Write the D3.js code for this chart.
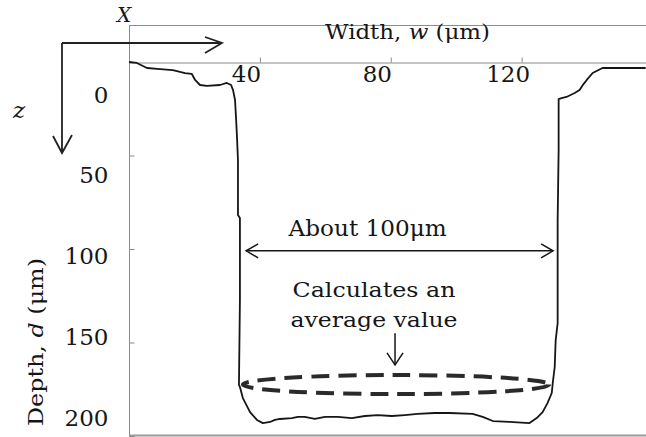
<!DOCTYPE html>
<html>
<head>
<meta charset="utf-8">
<script src="https://cdn.jsdelivr.net/npm/d3@7"></script>
<style>
  html, body { margin: 0; padding: 0; background: #fff; }
  svg { display: block; }
  text { font-family: "DejaVu Serif", serif; fill: #161616; }
</style>
</head>
<body>
<svg id="chart" width="646" height="437"></svg>
<script>
// Measured cross-section profile of the groove: position across the width (µm) and depth (µm)
const profileWidth = [0, 2.4, 5.5, 8.6, 13.4, 15.6, 17.1, 19.2, 20.2, 21.7,
  23.8, 27.8, 29.9, 31.2, 31.8, 32.4, 32.7, 33.0, 33.3, 33.3,
  33.9, 33.9, 33.6, 33.9, 34.8, 37.0, 39.1, 40.9, 43.1, 44.6,
  46.1, 49.8, 51.6, 53.7, 56.8, 59.9, 63.8, 68.1, 72.1, 76.0,
  80.3, 84.3, 88.2, 93.4, 98.0, 105.0, 108.1, 111.2, 116.3, 122.4,
  124.6, 126.4, 127.9, 129.2, 129.5, 130.1, 130.4, 131.0, 131.0, 131.3,
  131.3, 132.2, 133.7, 136.2, 137.7, 138.9, 139.9, 141.7, 144.7, 148.7, 157.9];
const profileDepth = [0, 0.5, 3.2, 3.7, 4.3, 5.3, 5.9, 6.4, 9.6, 12.3,
  12.8, 12.3, 11.2, 12.3, 15.0, 20.3, 29.4, 40.1, 52.4, 81.8,
  83.4, 127.3, 172.7, 173.8, 179.7, 187.2, 191.4, 193.1, 192.5, 191.4,
  190.9, 190.4, 189.8, 189.8, 190.9, 189.8, 189.8, 190.4, 189.3, 188.8,
  189.3, 188.8, 188.2, 187.7, 187.7, 188.2, 189.8, 192.0, 192.5, 193.1,
  190.4, 187.2, 182.4, 177.0, 171.7, 163.1, 148.7, 139.6, 84.5, 47.1,
  19.8, 19.3, 18.7, 16.6, 15.0, 11.8, 9.6, 5.9, 3.2, 3.2, 3.2];

// Axis ticks
const widthTicks = [40, 80, 120];
const depthTicks = [0, 50, 100, 150, 200];

// Annotations, in data units (µm)
const spanArrow = [35.8, 129.6];      // width span of the groove
const spanArrowDepth = 101;
const spanLabel = ["About 100μm"];
const averageLabel = ["Calculates an", "average value"];
const averageArrow = [81.3, 145, 162]; // width, from depth, to depth
const averageZone = [81.6, 172.5, 46.8, 5.1]; // centre width, centre depth, half-width, half-depth

const svg = d3.select("#chart");
const W = 646, H = 437;
const left = 129, bandTop = 25;

const x = d3.scaleLinear().domain([0, 158]).range([left, W]);
const y = d3.scaleLinear().domain([0, 200]).range([62, 436]);
// depth tick labels sit on their own, slightly tighter ladder
const yLabel = d3.scaleLinear().domain([0, 200]).range([102, 425]);

const frameColor = "#8c8c8c";
const ink = "#161616";

// frame: header band and plot border
svg.append("line").attr("x1", left).attr("x2", W).attr("y1", bandTop + 0.5).attr("y2", bandTop + 0.5)
  .attr("stroke", frameColor).attr("stroke-width", 1);
svg.append("line").attr("x1", left + 0.5).attr("x2", left + 0.5).attr("y1", bandTop).attr("y2", H)
  .attr("stroke", frameColor).attr("stroke-width", 1);
svg.append("line").attr("x1", left).attr("x2", W).attr("y1", H - 1.5).attr("y2", H - 1.5)
  .attr("stroke", "#9a9a9a").attr("stroke-width", 2);

// width axis along the top of the plot
const gx = svg.append("g")
  .attr("transform", `translate(0,${y(0) + 0.5})`)
  .call(d3.axisTop(x).tickValues(widthTicks).tickSize(5).tickSizeOuter(0));
gx.select(".domain").attr("stroke", frameColor);
gx.selectAll(".tick line").attr("stroke", frameColor);
gx.selectAll(".tick text")
  .attr("y", 19).attr("dy", 0).attr("dx", -14)
  .attr("font-size", 23).attr("font-family", "DejaVu Serif").attr("fill", ink);

// depth axis on the left, ticks pointing inward
const gy = svg.append("g")
  .attr("transform", `translate(${left + 0.5},0)`)
  .call(d3.axisRight(y).tickValues(depthTicks).tickSize(5).tickSizeOuter(0));
gy.select(".domain").remove();
gy.selectAll(".tick line").attr("stroke", frameColor);
gy.selectAll(".tick text")
  .attr("x", -21).attr("dy", 0)
  .attr("y", d => yLabel(d) - y(d))
  .attr("text-anchor", "end")
  .attr("font-size", 23).attr("font-family", "DejaVu Serif").attr("fill", ink);

// axis titles
const wTitle = svg.append("text")
  .attr("x", 325).attr("y", 39)
  .attr("font-size", 21)
  .attr("textLength", 165).attr("lengthAdjust", "spacingAndGlyphs");
wTitle.append("tspan").text("Width, ");
wTitle.append("tspan").attr("font-style", "italic").text("w");
wTitle.append("tspan").text(" (μm)");

const dTitle = svg.append("text")
  .attr("transform", "translate(43,342) rotate(-90)")
  .attr("text-anchor", "middle")
  .attr("font-size", 21)
  .attr("textLength", 168).attr("lengthAdjust", "spacingAndGlyphs");
dTitle.append("tspan").text("Depth, ");
dTitle.append("tspan").attr("font-style", "italic").text("d");
dTitle.append("tspan").text(" (μm)");

// coordinate system indicator (X to the right, z downward)
const axisInk = "#222";
const coord = svg.append("g").attr("fill", "none").attr("stroke", axisInk).attr("stroke-width", 1.8);
coord.append("path").attr("d", "M62,43 H222 M205,37 L222,43 L205,53");
coord.append("path").attr("d", "M62,43 V153 M53,136 L62,153 L72,135");
svg.append("text").attr("x", 124).attr("y", 22).attr("text-anchor", "middle")
  .attr("font-size", 20).attr("font-style", "italic").text("X");
svg.append("text").attr("x", 19).attr("y", 118).attr("text-anchor", "middle")
  .attr("font-size", 23).attr("font-style", "italic").text("z");

// groove profile
const line = d3.line()
  .x(i => x(profileWidth[i]))
  .y(i => y(profileDepth[i]));
svg.append("path")
  .datum(d3.range(profileWidth.length))
  .attr("d", line)
  .attr("fill", "none")
  .attr("stroke", ink)
  .attr("stroke-width", 1.8)
  .attr("stroke-linejoin", "round");

// width span double arrow
const ann = svg.append("g").attr("fill", "none").attr("stroke", ink).attr("stroke-width", 1.5);
const ax0 = x(spanArrow[0]), ax1 = x(spanArrow[1]), ay = y(spanArrowDepth);
ann.append("path").attr("d", `M${ax0},${ay} H${ax1}`);
ann.append("path").attr("d", `M${ax0 + 12},${ay - 7} L${ax0},${ay} L${ax0 + 12},${ay + 7}`);
ann.append("path").attr("d", `M${ax1 - 12},${ay - 7} L${ax1},${ay} L${ax1 - 12},${ay + 7}`);

svg.append("text")
  .attr("x", (x(spanArrow[0]) + x(spanArrow[1])) / 2 - 32)
  .attr("y", y(spanArrowDepth) - 15)
  .attr("text-anchor", "middle")
  .attr("font-size", 22)
  .attr("textLength", 158).attr("lengthAdjust", "spacingAndGlyphs")
  .text(spanLabel[0]);

// averaging zone note
svg.selectAll("text.avg")
  .data(averageLabel)
  .join("text")
  .attr("class", "avg")
  .attr("x", 374)
  .attr("y", (d, i) => 297 + i * 30)
  .attr("text-anchor", "middle")
  .attr("font-size", 21)
  .attr("textLength", (d, i) => i === 0 ? 163 : 167)
  .attr("lengthAdjust", "spacingAndGlyphs")
  .text(d => d);

const dx = x(averageArrow[0]), dy0 = y(averageArrow[1]), dy1 = y(averageArrow[2]);
ann.append("path").attr("d", `M${dx},${dy0} V${dy1}`);
ann.append("path").attr("d", `M${dx - 8},${dy1 - 12} L${dx},${dy1} L${dx + 8},${dy1 - 12}`);

// dashed averaging zone
const [cw, cd, hw, hd] = averageZone;
svg.append("ellipse")
  .attr("cx", x(cw)).attr("cy", y(cd))
  .attr("rx", x(cw + hw) - x(cw)).attr("ry", y(cd + hd) - y(cd))
  .attr("fill", "none")
  .attr("stroke", "#2a2a2a")
  .attr("stroke-width", 4)
  .attr("stroke-dasharray", "18 9");
</script>
</body>
</html>
